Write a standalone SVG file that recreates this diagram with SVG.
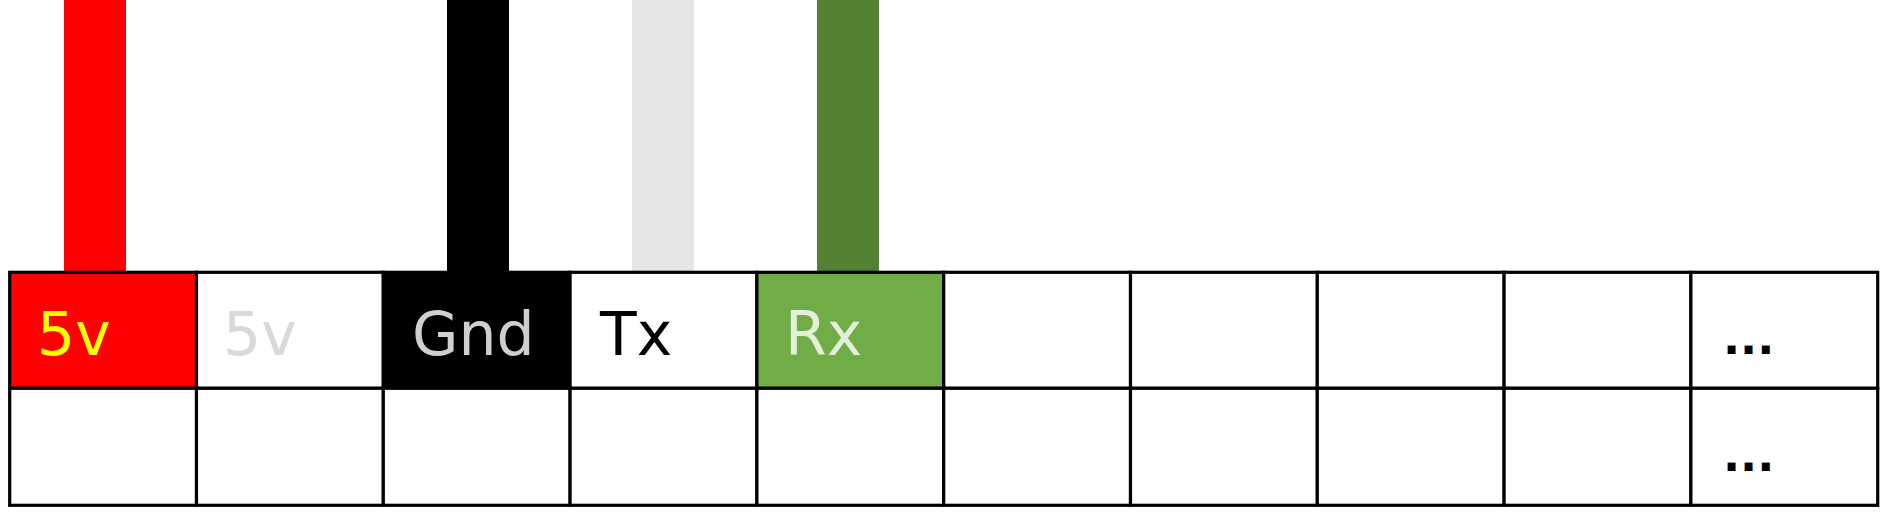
<svg xmlns="http://www.w3.org/2000/svg" width="1892" height="521" viewBox="0 0 1892 521">
<style>
.cell{stroke:#000;stroke-width:3.2;fill:#fff}
.lbl{font-family:"DejaVu Sans",sans-serif;font-size:60px}
.dots{font-family:"DejaVu Sans",sans-serif;font-size:45px;font-weight:bold}
.wire{stroke:none}
</style>
<rect width="1892" height="521" fill="#fff"/>
<g id="wires">
<rect class="wire" x="64" y="0" width="62" height="272" fill="#FF0000"/>
<rect class="wire" x="447" y="0" width="62" height="272" fill="#000000"/>
<rect class="wire" x="632" y="0" width="62" height="272" fill="#E6E6E6"/>
<rect class="wire" x="817" y="0" width="62" height="272" fill="#548235"/>
</g>
<g id="pin-5v-a"><rect class="cell" x="9.7" y="272.3" width="186.8" height="116" style="fill:#FF0000"/><text class="lbl" x="37" y="355" fill="#FFFF00">5v</text></g>
<g id="pin-5v-b"><rect class="cell" x="196.5" y="272.3" width="186.8" height="116"/><text class="lbl" x="223" y="355" fill="#D9D9D9">5v</text></g>
<g id="pin-gnd"><rect class="cell" x="383.3" y="272.3" width="186.8" height="116" style="fill:#000"/><text class="lbl" x="412" y="355" fill="#D0CECE">Gnd</text></g>
<g id="pin-tx"><rect class="cell" x="570.1" y="272.3" width="186.8" height="116"/><text class="lbl" x="600" y="355" fill="#000">Tx</text></g>
<g id="pin-rx"><rect class="cell" x="756.9" y="272.3" width="186.8" height="116" style="fill:#70AD47"/><text class="lbl" x="785" y="355" fill="#E2F0D9">Rx</text></g>
<g id="pin-6"><rect class="cell" x="943.7" y="272.3" width="186.8" height="116"/></g>
<g id="pin-7"><rect class="cell" x="1130.5" y="272.3" width="186.8" height="116"/></g>
<g id="pin-8"><rect class="cell" x="1317.3" y="272.3" width="186.8" height="116"/></g>
<g id="pin-9"><rect class="cell" x="1504.1" y="272.3" width="186.8" height="116"/></g>
<g id="pin-10"><rect class="cell" x="1690.9" y="272.3" width="186.8" height="116"/><text class="dots" x="1723" y="354" fill="#000">...</text></g>
<g id="row2-1"><rect class="cell" x="9.7" y="388.3" width="186.8" height="117"/></g>
<g id="row2-2"><rect class="cell" x="196.5" y="388.3" width="186.8" height="117"/></g>
<g id="row2-3"><rect class="cell" x="383.3" y="388.3" width="186.8" height="117"/></g>
<g id="row2-4"><rect class="cell" x="570.1" y="388.3" width="186.8" height="117"/></g>
<g id="row2-5"><rect class="cell" x="756.9" y="388.3" width="186.8" height="117"/></g>
<g id="row2-6"><rect class="cell" x="943.7" y="388.3" width="186.8" height="117"/></g>
<g id="row2-7"><rect class="cell" x="1130.5" y="388.3" width="186.8" height="117"/></g>
<g id="row2-8"><rect class="cell" x="1317.3" y="388.3" width="186.8" height="117"/></g>
<g id="row2-9"><rect class="cell" x="1504.1" y="388.3" width="186.8" height="117"/></g>
<g id="row2-10"><rect class="cell" x="1690.9" y="388.3" width="186.8" height="117"/><text class="dots" x="1723" y="471" fill="#000">...</text></g>
</svg>
